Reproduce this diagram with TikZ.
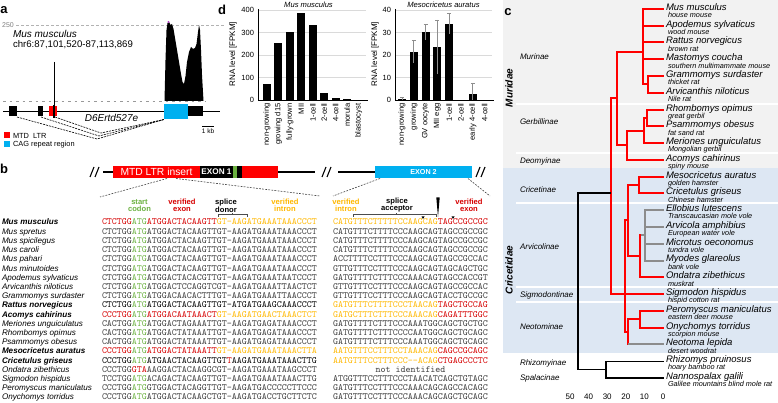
\documentclass[tikz,border=0pt]{standalone}
\usepackage{fontspec}
\setmainfont{Liberation Sans}
\definecolor{myred}{HTML}{FF0000}
\definecolor{exred}{HTML}{D60000}
\definecolor{intyel}{HTML}{FFB800}
\definecolor{codgrn}{HTML}{6BB140}
\definecolor{cagblue}{HTML}{00B0F0}
\definecolor{seqgray}{HTML}{3C3C3C}
\definecolor{bandgray}{HTML}{F2F2F2}
\definecolor{bandblue}{HTML}{DDE7F3}
\definecolor{treegray}{HTML}{8C8C8C}
\definecolor{gridgray}{HTML}{DADADA}
\definecolor{errgray}{HTML}{8E8E8E}
\definecolor{peakpurple}{HTML}{B040C0}
\newcommand{\cre}[1]{\textcolor{exred}{#1}}
\newcommand{\cgr}[1]{\textcolor{codgrn}{#1}}
\newcommand{\cye}[1]{\textcolor{intyel}{#1}}
\newcommand{\fsz}[1]{\fontsize{#1}{#1}\selectfont}
\tikzset{
  panellbl/.style={font=\fsz{13}\bfseries},
  nm/.style={font=\fsz{8.1}\itshape, anchor=base west},
  nmb/.style={font=\fsz{8.1}\bfseries\itshape, anchor=base west},
  sq/.style={font=\fsz{9.52}\ttfamily, text=seqgray, anchor=base west},
  sqb/.style={font=\fsz{9.52}\ttfamily\addfontfeatures{FakeBold=1.6}, text=black, anchor=base west},
  annot/.style={font=\fontsize{7.6}{7}\selectfont\bfseries, align=center},
  tr/.style={myred, line width=2pt, line cap=rect},
  tg/.style={treegray, line width=2pt, line cap=rect},
  tb/.style={black, line width=1.4pt, line cap=rect},
  spn/.style={font=\fsz{9.5}\itshape, anchor=base west},
  cmn/.style={font=\fsz{7.3}\itshape, anchor=base west},
  sub/.style={font=\fsz{8}\itshape, anchor=west},
  tick/.style={font=\fsz{7.5}},
  xl/.style={font=\fsz{7.6}, rotate=90, anchor=east},
  slash/.style={line width=1.1pt},
  fan/.style={dash pattern=on 1.8pt off 1.3pt, line width=0.6pt, black!75},
  spl/.style={dash pattern=on 2pt off 1pt, line width=0.6pt, black},
}
\newcommand{\seqrow}[7]{%
  \node[#3] (name#1) at (2,#2) {#4};
  \node[#5] (left#1) at (102,#2) {#6};
  \node[#5] (right#1) at (333,#2) {#7};
}
\begin{document}
\begin{tikzpicture}[x=1pt,y=-1pt,every node/.style={inner sep=0pt,outer sep=0pt}]
\fill[white] (0,0) rectangle (778,403);
\useasboundingbox (0,0) rectangle (778,403);

%% ================= panel a =================
\node[panellbl] (la) at (4,10) {a};
\node[font=\fsz{7}, text=gray] (t250) at (8,25) {250};
\draw[gray!60, dash pattern=on 3pt off 2pt, line width=0.5pt] (16,25) -- (225,25);
\draw[gray!80, dash pattern=on 2.5pt off 4pt, line width=0.5pt] (3,101) -- (206,101);
\node[font=\fsz{10}\itshape, anchor=west] (amus) at (13,34) {Mus musculus};
\node[font=\fsz{9.6}, anchor=west] (achr) at (13,45) {chr6:87,101,520-87,113,869};
% coverage
\draw[line width=0.7pt] (54.5,62) -- (54.5,106);
\fill[black] (164.5,101) -- (165.5,60) -- (166.5,30) -- (167.5,23) -- (169,22) -- (170.5,25) -- (172,24) -- (173.5,29) -- (175,38) -- (177,50) -- (179,62) -- (181,74) -- (182.5,82) -- (184,84) -- (185.5,76) -- (187,62) -- (189,52) -- (191,47) -- (193,49) -- (195,48) -- (196.5,44) -- (198,32) -- (199,25) -- (200,30) -- (201,50) -- (202,75) -- (203.5,101) -- cycle;
\fill[peakpurple] (168.5,22) circle (1.2);
% gene model
\draw[line width=0.9pt] (3,111) -- (220,111);
\fill (9,106.5) rectangle (17,116.5);
\fill (38,106.5) rectangle (43,116.5);
\fill[myred] (49,106.5) rectangle (57,116.5);
\fill (53,105) rectangle (55,118);
\fill[cagblue] (164,104) rectangle (188,119.5);
\fill (188,106.5) rectangle (203,116.5);
\draw[spl] (17,117) -- (97,139) -- (164,119.5);
\draw[spl] (41,117) -- (99,136) -- (164,119.5);
\draw[spl] (55,117) -- (101,133) -- (164,119.5);
\node[font=\fsz{10}\itshape] (gname) at (111.5,117.5) {D6Ertd527e};
\draw[line width=0.8pt] (202,126) -- (214,126);
\node[font=\fsz{6.5}] (kb) at (208,131) {1 kb};
\fill[myred] (3.5,132.5) rectangle (10,138.5);
\node[font=\fsz{7.4}, anchor=west] (lg1) at (13,135.5) {MTD\ \ LTR};
\fill[cagblue] (3.5,141.5) rectangle (10,147.5);
\node[font=\fsz{7.4}, anchor=west] (lg2) at (13,144.5) {CAG repeat region};

%% ================= panel d =================
\node[panellbl] (ld) at (222,10) {d};
% left chart
\node[font=\fsz{7.6}\itshape] (dt1) at (308.5,5) {Mus musculus};
\node[font=\fsz{8}, rotate=90] (dy1) at (233,54) {RNA level [FPKM]};
\foreach \yy in {10,32.5,55,77.5} \draw[gridgray, line width=0.5pt] (258,\yy) -- (366,\yy);
\foreach \v/\yy in {0/100,100/77.5,200/55,300/32.5,400/10} \node[tick, anchor=east] at (254,\yy) {\v};
\foreach \v [count=\i from 0] in {70,253,303,385,333,33,10,4,2}
  \fill (263+11.45*\i, 100) rectangle (271+11.45*\i, 100-0.225*\v);
\draw[line width=0.6pt] (258,9) -- (258,100) -- (368,100);
\foreach \t [count=\i from 0] in {non-growing,growing d15,fully-grown,MII,1-cell,2-cell,4-cell,morula,blastocyst}
  \node[xl] at (267+11.45*\i, 103.5) {\t};
% right chart
\node[font=\fsz{7.6}\itshape] (dt2) at (443.5,5) {Mesocricetus auratus};
\node[font=\fsz{8}, rotate=90] (dy2) at (375,54) {RNA level [FPKM]};
\foreach \yy in {10,32.5,55,77.5} \draw[gridgray, line width=0.5pt] (395,\yy) -- (492,\yy);
\foreach \v/\yy in {0/100,10/77.5,20/55,30/32.5,40/10} \node[tick, anchor=east] at (391,\yy) {\v};
\foreach \v [count=\i from 0] in {0.5,21.5,30.2,23.6,33.8,0,2.7,0}
  \fill (398+11.8*\i, 100) rectangle (406+11.8*\i, 100-2.25*\v);
\foreach \i/\v/\e in {0/0.5/0.6,1/21.5/5,2/30.2/3.5,3/23.6/12,4/33.8/4.5,6/2.7/4.8}{
  \draw[errgray, line width=0.7pt] (402+11.8*\i, {100-2.25*(\v+\e)}) -- (402+11.8*\i, {min(100,100-2.25*(\v-\e))});
  \draw[errgray, line width=0.7pt] (400+11.8*\i, {100-2.25*(\v+\e)}) -- (404+11.8*\i, {100-2.25*(\v+\e)});
}
\draw[line width=0.6pt] (395,9) -- (395,100) -- (494,100);
\foreach \t [count=\i from 0] in {non-growing,growing,GV oocyte,MII egg,1-cell,2-cell,early 4-cell,4-cell}
  \node[xl] at (402+11.8*\i, 103.5) {\t};

%% ================= panel b =================
\node[panellbl] (lb) at (4,169) {b};
\draw[slash] (90,177) -- (94,167); \draw[slash] (95,177) -- (99,167);
\draw[line width=1.3pt] (103,172) -- (113,172);
\fill[myred] (113,166) rectangle (200,178);
\node[font=\fsz{10.3}, text=white] (ltr) at (156.5,172) {MTD LTR insert};
\fill[black] (200,166) rectangle (233,178);
\node[font=\fsz{8.2}\bfseries, text=white] (ex1) at (216.5,172) {EXON 1};
\fill[codgrn] (233,166) rectangle (237,178);
\fill[black] (237,166) rectangle (242,178);
\fill[myred] (242,166) rectangle (278,178);
\draw[line width=1.3pt] (278,172) -- (315,172);
\draw[slash] (322,177) -- (326,167); \draw[slash] (327,177) -- (331,167);
\draw[line width=1.3pt] (338,172) -- (375,172);
\fill[cagblue] (375,166) rectangle (472,178);
\node[font=\fsz{7.2}\bfseries, text=white] (ex2) at (423.5,172) {EXON 2};
\draw[slash] (476,177) -- (480,167); \draw[slash] (481,177) -- (485,167);
\draw[fan] (167,178.5) -- (100,197);
\draw[fan] (176,178.5) -- (320,196);
\draw[fan] (380,178.5) -- (333,196);
\draw[fan] (468,178.5) -- (490,196);
% annotations
\node[annot, text=codgrn] (a1) at (139.5,205.5) {start\\codon};
\node[annot, text=exred] (a2) at (182,205.5) {verified\\exon};
\node[annot, text=black] (a3) at (226,205.5) {splice\\donor};
\node[annot, text=intyel] (a4) at (285,205.5) {verified\\intron};
\node[annot, text=intyel] (a5) at (346,205.5) {verified\\intron};
\node[annot, text=black] (a6) at (397,205.5) {splice\\acceptor};
\node[annot, text=exred] (a7) at (469,205.5) {verified\\exon};
\draw[black!70, line width=0.5pt] (218,217) -- (218,214.5) -- (247,214.5) -- (247,217);
\draw[black!70, line width=0.5pt] (232.5,214.5) -- (232.5,213);
\draw[black!70, line width=0.5pt] (353,217) -- (353,214.5) -- (436,214.5) -- (436,217);
\draw[black!70, line width=0.5pt] (396,214.5) -- (396,213);
\fill[black] (436.3,197.5) -- (439.7,197.5) -- (438,217) -- cycle;
\fill[black] (421.5,216.5) -- (424.5,216.5) -- (423,219) -- cycle;
\fill[black] (451.5,216.5) -- (454.5,216.5) -- (453,219) -- cycle;
% sequence rows
\seqrow{r0}{225.0}{nmb}{Mus musculus}{sqb}{\cre{CTCTGG}\cgr{ATG}\cre{ATGGACTACAAGTT}\cye{GT-AAGATGAAATAAACCCT}}{\cye{CATGTTTCTTTTTCCAAGCAG}\cre{TAGCCGCCGC}}
\seqrow{r1}{234.2}{nm}{Mus spretus}{sq}{CTCTGG\cgr{ATG}ATGGACTACAAGTTGT-AAGATGAAATAAACCCT}{CATGTTTCTTTTCCCAAGCAGTAGCCGCCGC}
\seqrow{r2}{243.4}{nm}{Mus spicilegus}{sq}{CTCTGG\cgr{ATG}ATGGACTACAAGTTGT-AAGATGAAATAAACCCT}{CATGTTTCTTTTCCCAAGCAGTAGCCGCCGC}
\seqrow{r3}{252.6}{nm}{Mus caroli}{sq}{CTCTGG\cgr{ATG}ATGGACTACAAGTTGT-AAGATGAAATAAACCCT}{CATGTTTCTTTTCCCAAGCAGTAGCCGCCGC}
\seqrow{r4}{261.8}{nm}{Mus pahari}{sq}{CTCTGG\cgr{ATG}ATGGACTACAAGTTGT-AAGATGAAATAAACCCT}{ACCTTTTCCTTTCCCAAGCAGTAGCCGCCAC}
\seqrow{r5}{271.0}{nm}{Mus minutoides}{sq}{CTCTGG\cgr{ATG}ATGGACTACAAGTTGT-AAGATGAAATAAACCCT}{GTTGTTTCCTTTCCCAAGCAGTAGCAGCTGC}
\seqrow{r6}{280.2}{nm}{Apodemus sylvaticus}{sq}{CTCTGG\cgr{ATG}ATGGACTACACGTTGT-AAGATGAAATAATCCCT}{GATGTTTTCTTTCCCAAACAGTAGCCACCGT}
\seqrow{r7}{289.4}{nm}{Arvicanthis niloticus}{sq}{CTCTGG\cgr{ATG}ATGGACTCCAGGTCGT-AAGATGAAATTAACTCT}{GTTGTTTCCTTTCCCAAGCAGTAGCCGCCAC}
\seqrow{r8}{298.6}{nm}{Grammomys surdaster}{sq}{CTCTGG\cgr{ATG}ATGGACAACACTTTGT-AAGATGAAATTAACCCT}{GTTGTTTCCTTTCCCAAGCAGTACCTGCCGC}
\seqrow{r9}{307.8}{nmb}{Rattus norvegicus}{sqb}{CTCTGG\cgr{ATG}ATGGACTACAAGTTGT-ATGATGAAGCAAACCCT}{\cye{GATGTTTCTTTTCCCTAACAG}\cre{TAGCTGCCAG}}
\seqrow{r10}{317.0}{nmb}{Acomys cahirinus}{sqb}{\cre{CCCTGG}\cgr{ATG}\cre{ATGGACAATAAACT}\cye{GT-AAGATGAACTAAACTCT}}{\cye{GATGCTTTCTTTCCCAAACAG}\cre{CAGATTTGGC}}
\seqrow{r11}{326.2}{nm}{Meriones unguiculatus}{sq}{CACTGG\cgr{ATG}ATGGACTAGAAATTGT-AAGATGAGATAAACCCT}{GATGTTTTCTTTCCCAAATGGCAGCTGCTGC}
\seqrow{r12}{335.4}{nm}{Rhombomys opimus}{sq}{CACTGG\cgr{ATG}ATGGACTATAAATTGT-AAGATGAGATAAACCCT}{GATGTTTTCTTTCCCCAATGGCAGCTGCAGC}
\seqrow{r13}{344.6}{nm}{Psammomys obesus}{sq}{CACTGG\cgr{ATG}ATGGACTATAAATTGT-AAGATGAGATAAACCCT}{GATGTTTTCTTTCCCAAATGGCAGCTGCAGC}
\seqrow{r14}{353.8}{nmb}{Mesocricetus auratus}{sqb}{\cre{CCCTGG}\cgr{ATG}\cre{ATGGACTATAAATT}\cye{GT-AAGATGAAATAAACTTA}}{\cye{AATGTTTCCTTTCCTAAACAG}\cre{CAGCCGCAGC}}
\seqrow{r15}{363.0}{nmb}{Cricetulus griseus}{sqb}{CCCTGG\cgr{ATG}ATGAACTACAAGTTGT\cre{T}AAGATGAAATAAACTTG}{\cye{AATGTTTCCTTTCCC-{}-ACAG}\cre{CTGAGCCCTC}}
\node[nm] (namer16) at (2,372.2) {Ondatra zibethicus};
\node[sq] (leftr16) at (102,372.2) {CCCTGG\cre{GTA}AAGGACTACAAGGCGT-AAGATGAAATAAGCCCT};
\node[font=\fsz{9.52}\ttfamily, text=seqgray, anchor=base] (rightr16) at (410.5,372.2) {not identified};
\seqrow{r17}{381.4}{nm}{Sigmodon hispidus}{sq}{TCCTGG\cgr{ATG}ACAGACTACAAGTTGT-AAGATGAAATAAACTTG}{ATGGTTTCCTTTCCCTAACATCAGCTGTAGC}
\seqrow{r18}{390.6}{nm}{Peromyscus maniculatus}{sq}{CCCTGG\cgr{ATG}GTGGACTACAGGTTGT-AAGATGACCCCCTTCCC}{GATGTTTCCTTTCCCAAACAGCAGCCACAGC}
\seqrow{r19}{399.8}{nm}{Onychomys torridus}{sq}{CCCTGG\cgr{ATG}ATGGACTACAAGCTGT-AAGATGACCTGCTTCTC}{GATGTTTCCTTTCCCAAACAGCAGCTGCAGC}

%% ================= panel c =================
\fill[bandgray] (503,0) rectangle (778,168);
\fill[bandblue] (503,168) rectangle (778,353);
\foreach \yy in {104,153,203,287,302} \draw[white, line width=1.5pt] (516,\yy) -- (778,\yy);
\node[panellbl] (lc) at (508,12) {c};
\node[font=\fsz{10}\bfseries\itshape, rotate=90] (gmur) at (509,88) {Muridae};
\node[font=\fsz{10}\bfseries\itshape, rotate=90] (gcri) at (509,270) {Cricetidae};
\node[sub] (s1) at (520,57) {Murinae};
\node[sub] (s2) at (520,122) {Gerbillinae};
\node[sub] (s3) at (520,161) {Deomyinae};
\node[sub] (s4) at (520,190) {Cricetinae};
\node[sub] (s5) at (520,247) {Arvicolinae};
\node[sub] (s6) at (520,295.5) {Sigmodontinae};
\node[sub] (s7) at (520,327) {Neotominae};
\node[sub] (s8) at (520,363) {Rhizomyinae};
\node[sub] (s9) at (520,378) {Spalacinae};
% tree: Murinae
\draw[tr] (643,9) -- (643,84.5);
\foreach \yy in {9,25.8,42.5,59.3} \draw[tr] (643,\yy) -- (663,\yy);
\draw[tr] (643,84.5) -- (648,84.5);
\draw[tr] (648,76.1) -- (648,92.9);
\draw[tr] (648,76.1) -- (663,76.1);
\draw[tr] (648,92.9) -- (663,92.9);
\draw[tr] (617,52) -- (643,52);
% Gerbillinae + Deomyinae
\draw[tr] (647,109.6) -- (647,126.4);
\draw[tr] (647,109.6) -- (663,109.6);
\draw[tr] (647,126.4) -- (663,126.4);
\draw[tr] (644,118) -- (647,118);
\draw[tr] (644,118) -- (644,143.2);
\draw[tr] (644,143.2) -- (663,143.2);
\draw[tr] (627,130.6) -- (644,130.6);
\draw[tr] (627,130.6) -- (627,159.9);
\draw[tr] (627,159.9) -- (663,159.9);
\draw[tr] (617,145) -- (627,145);
\draw[tr] (617,52) -- (617,145);
\draw[tr] (611,98.5) -- (617,98.5);
\draw[tr] (611,98.5) -- (611,294.1);
% Cricetinae
\draw[tr] (639,176.7) -- (639,193.5);
\draw[tr] (639,176.7) -- (663,176.7);
\draw[tr] (639,193.5) -- (663,193.5);
\draw[tr] (628,185) -- (639,185);
% Arvicolinae
\draw[tg] (645,210.2) -- (645,260.6);
\foreach \yy in {210.2,227.0,243.8,260.6} \draw[tg] (645,\yy) -- (663,\yy);
\draw[tg] (640,235.4) -- (645,235.4);
\draw[tr] (640,235.4) -- (640,277.3);
\draw[tr] (640,277.3) -- (663,277.3);
\draw[tr] (628,256) -- (640,256);
\draw[tr] (628,185) -- (628,256);
\draw[tr] (625,220.5) -- (628,220.5);
% Sigmodon
\draw[tr] (611,294.1) -- (663,294.1);
% Neotominae
\draw[tr] (640,310.9) -- (640,327.6);
\draw[tr] (640,310.9) -- (663,310.9);
\draw[tr] (640,327.6) -- (663,327.6);
\draw[tr] (628,319.2) -- (640,319.2);
\draw[tr] (628,319.2) -- (628,344.4);
\draw[tg] (629,344.4) -- (663,344.4);
\draw[tr] (625,332) -- (628,332);
\draw[tr] (625,220.5) -- (625,332);
% outgroup
\draw[tb] (578,193) -- (610,193);
\draw[tb] (578,193) -- (578,369.5);
\draw[tb] (578,369.5) -- (606,369.5);
\draw[tb] (606,361.2) -- (606,377.9);
\draw[tb] (606,361.2) -- (663,361.2);
\draw[tb] (606,377.9) -- (663,377.9);
% species labels
\foreach \n/\c [count=\k from 0] in {Mus musculus/house mouse,Apodemus sylvaticus/wood mouse,Rattus norvegicus/brown rat,Mastomys coucha/southern multimammate mouse,Grammomys surdaster/thicket rat,Arvicanthis niloticus/Nile rat,Rhombomys opimus/great gerbil,Psammomys obesus/fat sand rat,Meriones unguiculatus/Mongolian gerbil,Acomys cahirinus/spiny mouse,Mesocricetus auratus/golden hamster,Cricetulus griseus/Chinese hamster,Ellobius lutescens/Transcaucasian mole vole,Arvicola amphibius/European water vole,Microtus oeconomus/tundra vole,Myodes glareolus/bank vole,Ondatra zibethicus/muskrat,Sigmodon hispidus/hispid cotton rat,Peromyscus maniculatus/eastern deer mouse,Onychomys torridus/scorpion mouse,Neotoma lepida/desert woodrat,Rhizomys pruinosus/hoary bamboo rat,Nannospalax galili/Galilee mountains blind mole rat}{
  \node[spn] (sp\k) at (666, 9+16.77*\k+1.4) {\n};
  \node[cmn] (cm\k) at (668, 9+16.77*\k+8.7) {\c};
}
\foreach \v in {50,40,30,20,10,0} \node[font=\fsz{8}] (ax\v) at (663-1.86*\v, 397) {\v};
\end{tikzpicture}
\end{document}
